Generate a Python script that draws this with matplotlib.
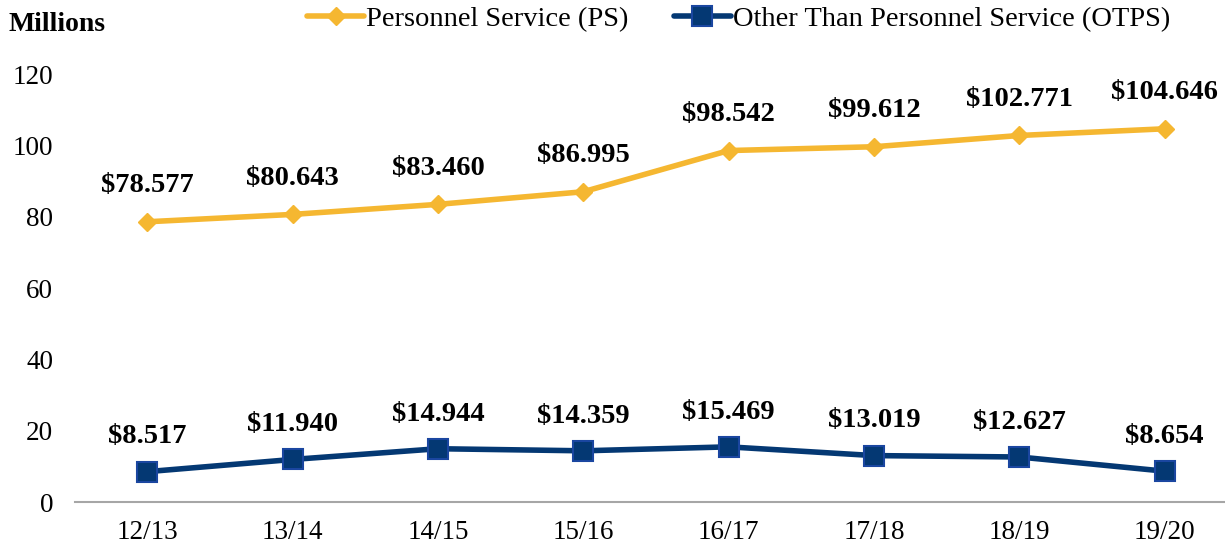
import matplotlib
matplotlib.use("Agg")
import matplotlib.pyplot as plt

plt.rcParams['font.family'] = ['Liberation Serif', 'DejaVu Serif']

years = ["12/13", "13/14", "14/15", "15/16", "16/17", "17/18", "18/19", "19/20"]
ps = [78.577, 80.643, 83.460, 86.995, 98.542, 99.612, 102.771, 104.646]
otps = [8.517, 11.940, 14.944, 14.359, 15.469, 13.019, 12.627, 8.654]

fig = plt.figure(figsize=(12.25, 5.48), dpi=100)
ax = fig.add_axes([0.061, 0.0839, 0.949, 0.781])

x = range(len(years))
ax.plot(x, ps, color="#F5B731", lw=4, marker="D", ms=9, mfc="#F5B731", mec="#F5B731",
        label="Personnel Service (PS)", solid_capstyle="round")
ax.plot(x, otps, color="#043873", lw=4, marker="s", ms=14, mfc="#043873", mec="#1A46A0", mew=1.5,
        label="Other Than Personnel Service (OTPS)", solid_capstyle="round")

for xi, v in zip(x, ps):
    ax.annotate(f"${v:.3f}", (xi, v), xytext=(0, 26), textcoords="offset points",
                ha="center", va="center", fontsize=20.5, fontweight="bold")
for xi, v in zip(x, otps):
    ax.annotate(f"${v:.3f}", (xi, v), xytext=(0, 25), textcoords="offset points",
                ha="center", va="center", fontsize=20.5, fontweight="bold")

ax.set_xlim(-0.5, 7.5)
ax.set_ylim(0, 120)
ax.set_yticks(range(0, 121, 20))
ax.set_xticks(list(x))
ax.set_xticklabels(years)
ax.tick_params(axis="both", length=0, labelsize=19.5)
ax.tick_params(axis="x", pad=13)
ax.tick_params(axis="y", pad=15.5)
for s in ["top", "right", "left"]:
    ax.spines[s].set_visible(False)
ax.spines["bottom"].set_color("#A6A6A6")
ax.spines["bottom"].set_linewidth(1.5)

fig.text(0.007, 0.955, "Millions", fontsize=20, fontweight="bold", va="center", ha="left")

ax.legend(loc="center", bbox_to_anchor=(0.603, 0.965), bbox_transform=fig.transFigure,
          ncol=2, frameon=False, fontsize=20.5, handlelength=2.0, handletextpad=0.06,
          columnspacing=1.6, borderaxespad=0)

fig.savefig("out.png", dpi=100)
